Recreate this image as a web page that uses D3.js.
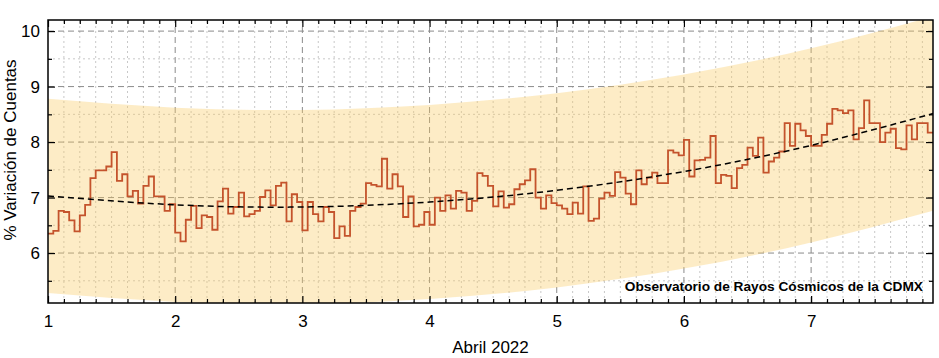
<!DOCTYPE html>
<html lang="es">
<head>
<meta charset="UTF-8" />
<title>Variación de Cuentas - Abril 2022</title>
<script src="https://d3js.org/d3.v7.min.js"></script>
<style>
    body { margin: 0; background: #fff; }
    svg { display: block; font-family: "Liberation Sans", Arial, sans-serif; }
    .grid-major { stroke: #8a8a8a; stroke-width: 1; stroke-dasharray: 6 4; }
    .grid-minor { stroke: #c8c8c8; stroke-width: 1; stroke-dasharray: 2 3; }
    .axis path { display: none; }
    .axis line { stroke: #000; stroke-width: 1.2; }
    .axis text { font-size: 17px; fill: #000; font-family: "Liberation Sans", Arial, sans-serif; }
</style>
</head>
<body>
<svg></svg>
<script>
    // hourly % count variation, starting 1 Apr 2022 00:00 (one row per day)
    const counts = [
        6.35, 6.40, 6.76, 6.74, 6.59, 6.39, 6.68, 6.87, 7.35, 7.49, 7.49, 7.56, 7.82, 7.30, 7.42, 7.02, 7.12, 6.89, 7.21, 7.38, 7.02, 7.02, 6.76, 6.88,
        6.37, 6.21, 6.60, 6.85, 6.45, 6.68, 6.65, 6.42, 6.93, 7.16, 6.71, 6.83, 7.09, 6.66, 6.70, 6.76, 7.01, 7.13, 6.86, 7.21, 7.27, 6.57, 7.06, 6.92,
        6.41, 6.92, 6.70, 6.57, 6.83, 6.74, 6.27, 6.48, 6.31, 6.76, 6.83, 6.89, 7.26, 7.23, 7.20, 7.70, 7.16, 7.42, 7.20, 6.65, 7.02, 6.48, 6.51, 6.74,
        6.51, 7.00, 6.76, 7.04, 6.80, 7.12, 7.09, 6.76, 6.94, 7.44, 7.39, 7.21, 6.84, 7.11, 6.82, 6.88, 7.15, 7.24, 7.31, 7.51, 7.00, 6.80, 7.04, 6.90,
        6.86, 6.80, 6.70, 6.91, 6.71, 7.20, 6.58, 6.62, 6.98, 7.09, 7.03, 7.46, 7.36, 7.07, 6.88, 7.49, 7.24, 7.36, 7.45, 7.26, 7.26, 7.85, 7.81, 7.76,
        8.04, 7.38, 7.67, 7.68, 7.72, 8.11, 7.26, 7.41, 7.39, 7.17, 7.53, 7.59, 7.90, 7.75, 8.08, 7.45, 7.65, 7.72, 7.83, 8.34, 7.93, 8.33, 8.21, 8.11,
        7.93, 7.93, 8.13, 8.33, 8.60, 8.57, 8.52, 8.57, 8.05, 8.25, 8.75, 8.34, 8.34, 8.00, 8.17, 8.24, 7.89, 7.87, 8.30, 8.05, 8.34, 8.34, 8.17
    ];

    // trend and confidence band, read at each day
    const knotDays = [1, 2, 3, 4, 5, 6, 7, 8];
    const trend = [7.03, 6.87, 6.83, 6.92, 7.13, 7.47, 7.94, 8.54];
    const bandUpper = [8.78, 8.62, 8.58, 8.67, 8.88, 9.22, 9.69, 10.29];
    const bandLower = [5.28, 5.12, 5.08, 5.17, 5.38, 5.72, 6.19, 6.79];

    const dayTicks = [1, 2, 3, 4, 5, 6, 7];
    const yTicks = [6, 7, 8, 9, 10];
    const xTitle = "Abril 2022";
    const yTitle = "% Variación de Cuentas";
    const credit = "Observatorio de Rayos Cósmicos de la CDMX";

    const width = 939, height = 358;
    const margin = { top: 20, right: 6, bottom: 55, left: 48 };

    const svg = d3.select("svg").attr("width", width).attr("height", height);

    const x = d3.scaleLinear()
        .domain([1, 1 + counts.length / 24])
        .range([margin.left, width - margin.right]);
    const y = d3.scaleLinear()
        .domain([5.1, 10.2])
        .range([height - margin.bottom, margin.top]);

    const x0 = x.range()[0], x1 = x.range()[1];
    const y0 = y.range()[0], y1 = y.range()[1];

    svg.append("clipPath").attr("id", "plot")
        .append("rect").attr("x", x0).attr("y", y1).attr("width", x1 - x0).attr("height", y0 - y1);

    const plot = svg.append("g").attr("clip-path", "url(#plot)");

    // grid: minor every 3 h / 0.5, major every day / unit
    const xMinor = d3.range(1, 8, 0.125).filter(d => d % 1 !== 0);
    const yMinor = d3.range(5.5, 10.2, 0.5).filter(d => d % 1 !== 0);

    plot.selectAll(".gx-minor").data(xMinor).join("line")
        .attr("class", "grid-minor")
        .attr("x1", d => x(d)).attr("x2", d => x(d)).attr("y1", y0).attr("y2", y1);
    plot.selectAll(".gy-minor").data(yMinor).join("line")
        .attr("class", "grid-minor")
        .attr("x1", x0).attr("x2", x1).attr("y1", d => y(d)).attr("y2", d => y(d));
    plot.selectAll(".gx-major").data(dayTicks.slice(1)).join("line")
        .attr("class", "grid-major")
        .attr("x1", d => x(d)).attr("x2", d => x(d)).attr("y1", y0).attr("y2", y1);
    plot.selectAll(".gy-major").data(yTicks).join("line")
        .attr("class", "grid-major")
        .attr("x1", x0).attr("x2", x1).attr("y1", d => y(d)).attr("y2", d => y(d));

    // band
    const bandData = knotDays.map((d, i) => ({ d, lo: bandLower[i], hi: bandUpper[i] }));
    plot.append("path")
        .datum(bandData)
        .attr("fill", "rgb(249,201,98)")
        .attr("fill-opacity", 0.36)
        .attr("d", d3.area()
            .curve(d3.curveNatural)
            .x(p => x(p.d))
            .y0(p => y(p.lo))
            .y1(p => y(p.hi)));

    // hourly steps
    const steps = counts.map((v, i) => [1 + i / 24, v]);
    steps.push([1 + counts.length / 24, counts[counts.length - 1]]);
    plot.append("path")
        .datum(steps)
        .attr("fill", "none")
        .attr("stroke", "#c4532c")
        .attr("stroke-width", 1.8)
        .attr("d", d3.line().curve(d3.curveStepAfter).x(p => x(p[0])).y(p => y(p[1])));

    // trend
    plot.append("path")
        .datum(knotDays.map((d, i) => [d, trend[i]]))
        .attr("fill", "none")
        .attr("stroke", "#000")
        .attr("stroke-width", 1.5)
        .attr("stroke-dasharray", "6 4")
        .attr("d", d3.line().curve(d3.curveNatural).x(p => x(p[0])).y(p => y(p[1])));

    // axes with inward ticks on all sides
    const fmt = d3.format("d");
    svg.append("g").attr("class", "axis").attr("transform", `translate(0,${y0})`)
        .call(d3.axisBottom(x).tickValues(xMinor).tickSize(-4).tickFormat(""));
    svg.append("g").attr("class", "axis").attr("transform", `translate(0,${y0})`)
        .call(d3.axisBottom(x).tickValues(dayTicks).tickSize(-7).tickPadding(12).tickFormat(fmt));
    svg.append("g").attr("class", "axis").attr("transform", `translate(0,${y1})`)
        .call(d3.axisTop(x).tickValues(xMinor).tickSize(-4).tickFormat(""));
    svg.append("g").attr("class", "axis").attr("transform", `translate(0,${y1})`)
        .call(d3.axisTop(x).tickValues(dayTicks).tickSize(-7).tickFormat(""));

    svg.append("g").attr("class", "axis").attr("transform", `translate(${x0},0)`)
        .call(d3.axisLeft(y).tickValues(yMinor).tickSize(-4).tickFormat(""));
    svg.append("g").attr("class", "axis").attr("transform", `translate(${x0},0)`)
        .call(d3.axisLeft(y).tickValues(yTicks).tickSize(-7).tickPadding(8).tickFormat(fmt));
    svg.append("g").attr("class", "axis").attr("transform", `translate(${x1},0)`)
        .call(d3.axisRight(y).tickValues(yMinor).tickSize(-4).tickFormat(""));
    svg.append("g").attr("class", "axis").attr("transform", `translate(${x1},0)`)
        .call(d3.axisRight(y).tickValues(yTicks).tickSize(-7).tickFormat(""));

    // frame
    svg.append("rect")
        .attr("x", x0).attr("y", y1).attr("width", x1 - x0).attr("height", y0 - y1)
        .attr("fill", "none").attr("stroke", "#000").attr("stroke-width", 1.5);

    // titles
    svg.append("text")
        .attr("x", (x0 + x1) / 2).attr("y", 353)
        .attr("text-anchor", "middle")
        .attr("font-size", 17)
        .text(xTitle);

    svg.append("text")
        .attr("transform", "translate(16,150) rotate(-90)")
        .attr("text-anchor", "middle")
        .attr("font-size", 17)
        .text(yTitle);

    svg.append("text")
        .attr("x", 923).attr("y", 291)
        .attr("text-anchor", "end")
        .attr("font-size", 13.7)
        .attr("font-weight", "bold")
        .text(credit);
</script>
</body>
</html>
